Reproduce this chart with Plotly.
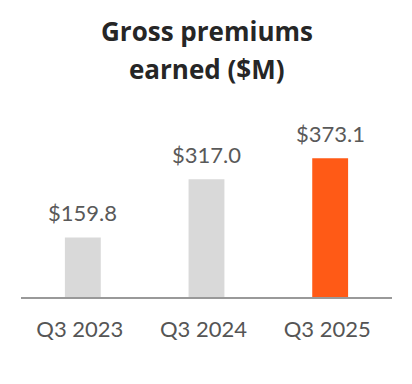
import plotly.graph_objects as go

categories = ["Q3 2023", "Q3 2024", "Q3 2025"]
values = [159.8, 317.0, 373.1]
labels = ["$159.8", "$317.0", "$373.1"]
colors = ["#d9d9d9", "#d9d9d9", "#ff5a16"]
title_lines = ["Gross premiums", "earned ($M)"]

fig = go.Figure(go.Bar(
    x=categories, y=values,
    marker=dict(color=colors, line=dict(width=0)),
    hoverinfo="skip",
))

annotations = []
for c, v, t in zip(categories, values, labels):
    annotations.append(dict(
        x=c, y=v, xref="x", yref="y", text=t, showarrow=False,
        xanchor="center", yanchor="middle", yshift=25,
        font=dict(family="Lato", size=22, color="#595959"),
    ))

for line, ypos in zip(title_lines, [1.352, 1.155]):
    annotations.append(dict(
        x=0.5, y=ypos, xref="paper", yref="paper", text="<b>%s</b>" % line,
        showarrow=False, xanchor="center", yanchor="middle",
        font=dict(family="Open Sans", size=26, color="#262626"),
    ))

fig.update_layout(
    width=404, height=376,
    margin=dict(l=13, r=20, t=92, b=87),
    paper_bgcolor="white", plot_bgcolor="white",
    bargap=0.71,
    showlegend=False,
    annotations=annotations,
    xaxis=dict(showline=True, linecolor="#999999", linewidth=2, ticks="",
               ticklabelstandoff=12, ticklabelshift=-3,
               tickfont=dict(family="Lato", size=22, color="#555555"),
               showgrid=False),
    yaxis=dict(visible=False, range=[0, 530], showgrid=False),
)

fig.write_html("out.html")
